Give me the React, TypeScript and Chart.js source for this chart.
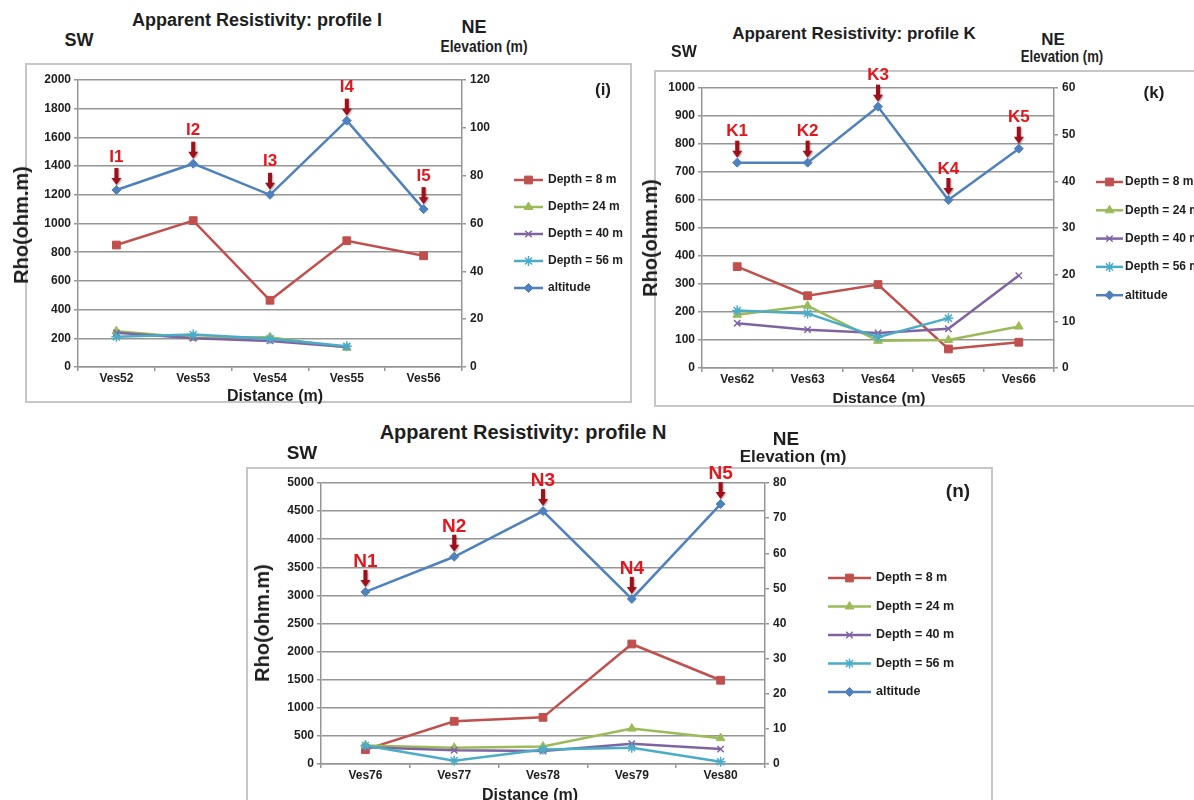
import React, { useEffect, useRef } from 'react';
import { Chart, registerables } from 'chart.js';
import { drawPoint } from 'chart.js/helpers';

Chart.register(...registerables);

const FONT = '"Liberation Sans", Arial, sans-serif';
const GRID = '#959595';
const TEXT = '#1e1e1e';
const EXTRA_TOP = 24;

// ---------- Profile I ----------
const categoriesI = ['Ves52', 'Ves53', 'Ves54', 'Ves55', 'Ves56'];
const depth8I = [850, 1020, 465, 880, 775];
const depth24I = [250, 203, 208, 135, null];
const depth40I = [238, 200, 182, 140, null];
const depth56I = [210, 226, 197, 145, null];
const altitudeI = [74, 85, 72, 103, 66];
const peaksI = ['I1', 'I2', 'I3', 'I4', 'I5'];
const namesI = ['Depth = 8 m', 'Depth= 24 m', 'Depth = 40 m', 'Depth = 56 m', 'altitude'];

// ---------- Profile K ----------
const categoriesK = ['Ves62', 'Ves63', 'Ves64', 'Ves65', 'Ves66'];
const depth8K = [362, 258, 298, 68, 92];
const depth24K = [190, 222, 97, 100, 148];
const depth40K = [160, 137, 125, 140, 330];
const depth56K = [205, 195, 110, 178, null];
const altitudeK = [44, 44, 56, 36, 47];
const peaksK = ['K1', 'K2', 'K3', 'K4', 'K5'];

// ---------- Profile N ----------
const categoriesN = ['Ves76', 'Ves77', 'Ves78', 'Ves79', 'Ves80'];
const depth8N = [255, 760, 830, 2135, 1490];
const depth24N = [330, 290, 310, 630, 460];
const depth40N = [300, 245, 230, 360, 265];
const depth56N = [330, 60, 260, 290, 40];
const altitudeN = [49, 59, 72, 47, 74];
const peaksN = ['N1', 'N2', 'N3', 'N4', 'N5'];

const namesKN = ['Depth = 8 m', 'Depth = 24 m', 'Depth = 40 m', 'Depth = 56 m', 'altitude'];

const STYLES = [
  { color: '#C0504D', pointStyle: 'rect', radius: 5.5, pw: 1 },
  { color: '#9BBB59', pointStyle: 'triangle', radius: 5, pw: 1 },
  { color: '#8064A2', pointStyle: 'crossRot', radius: 4.5, pw: 1.5 },
  { color: '#4BACC6', pointStyle: 'star', radius: 5, pw: 1.5 },
  { color: '#4F81BD', pointStyle: 'rectRot', radius: 4.5, pw: 1 },
];

const sideLegend = {
  id: 'sideLegend',
  afterDraw(chart: any, _args: any, opts: any) {
    const ctx = chart.ctx;
    chart.data.datasets.forEach((ds: any, i: number) => {
      const y = opts.y0 + i * opts.dy;
      ctx.save();
      ctx.strokeStyle = ds.borderColor;
      ctx.lineWidth = 2.5;
      ctx.beginPath();
      ctx.moveTo(opts.x, y);
      ctx.lineTo(opts.x + opts.len, y);
      ctx.stroke();
      ctx.fillStyle = ds.pointBackgroundColor;
      ctx.strokeStyle = ds.pointBorderColor;
      ctx.lineWidth = ds.pointBorderWidth;
      drawPoint(ctx, { pointStyle: ds.pointStyle, radius: ds.pointRadius, borderWidth: ds.pointBorderWidth, rotation: 0 } as any, opts.x + opts.len / 2, y);
      ctx.fillStyle = TEXT;
      ctx.font = `bold ${opts.font}px ${FONT}`;
      ctx.textAlign = 'left';
      ctx.textBaseline = 'middle';
      ctx.fillText(ds.label, opts.textX, y);
      ctx.restore();
    });
  },
};

const peakLabels = {
  id: 'peakLabels',
  afterDatasetsDraw(chart: any, _args: any, opts: any) {
    const meta = chart.getDatasetMeta(opts.index);
    const ctx = chart.ctx;
    meta.data.forEach((pt: any, i: number) => {
      const { x, y } = pt.getProps(['x', 'y'], true);
      ctx.save();
      ctx.shadowColor = 'rgba(0,0,0,0.35)';
      ctx.shadowBlur = 2;
      ctx.shadowOffsetX = 1;
      ctx.shadowOffsetY = 1;
      ctx.fillStyle = '#A0101A';
      ctx.fillRect(x - 2, y - 22, 4, 11);
      ctx.beginPath();
      ctx.moveTo(x - 5, y - 12);
      ctx.lineTo(x + 5, y - 12);
      ctx.lineTo(x, y - 5);
      ctx.closePath();
      ctx.fill();
      ctx.restore();
      ctx.save();
      ctx.fillStyle = '#E3161D';
      ctx.font = `bold ${opts.font}px ${FONT}`;
      ctx.textAlign = 'center';
      ctx.textBaseline = 'middle';
      ctx.fillText(opts.labels[i], x, y - opts.offset);
      ctx.restore();
    });
  },
};

type Box = { left: number; top: number; width: number; height: number };
type Plot = { left: number; right: number; top: number; bottom: number };

interface PanelProps {
  box: Box;
  plot: Plot;
  categories: string[];
  series: (number | null)[][];
  names: string[];
  leftMax: number;
  leftStep: number;
  rightMax: number;
  rightStep: number;
  peaks: string[];
  peakFont: number;
  peakOffset: number;
  legend: { x: number; len: number; textX: number; y0: number; dy: number; font: number };
}

function Panel(p: PanelProps) {
  const ref = useRef<HTMLCanvasElement>(null);
  const cTop = p.box.top - EXTRA_TOP;
  const cHeight = p.box.height + EXTRA_TOP;
  useEffect(() => {
    if (!ref.current) return;
    const leftW = p.plot.left - p.box.left;
    const rightW = 40;
    const xH = 20;
    const padTop = p.plot.top - cTop;
    const padRight = p.box.left + p.box.width - p.plot.right - rightW;
    const padBottom = p.box.top + p.box.height - p.plot.bottom - xH;
    const tickFont = { family: FONT, size: 12, weight: 'bold' as const };
    const plain = (v: any) => String(v);
    const datasets = p.series.map((data, i) => ({
      label: p.names[i],
      data,
      yAxisID: i === 4 ? 'yR' : 'y',
      borderColor: STYLES[i].color,
      backgroundColor: STYLES[i].color,
      borderWidth: 2.5,
      pointStyle: STYLES[i].pointStyle,
      pointRadius: STYLES[i].radius,
      pointBorderWidth: STYLES[i].pw,
      pointBackgroundColor: STYLES[i].color,
      pointBorderColor: STYLES[i].color,
      tension: 0,
      spanGaps: false,
      order: 10 - i,
      clip: false as any,
    }));
    const chart = new Chart(ref.current, {
      type: 'line',
      data: { labels: p.categories, datasets: datasets as any },
      plugins: [sideLegend as any, peakLabels as any],
      options: {
        animation: false,
        responsive: false,
        maintainAspectRatio: false,
        layout: { padding: { left: 0, top: padTop, right: padRight, bottom: padBottom } },
        scales: {
          x: {
            type: 'category',
            offset: true,
            grid: { display: true, drawOnChartArea: false, drawTicks: true, tickLength: 4, offset: true, color: GRID, lineWidth: 1.5 },
            border: { display: true, color: GRID, width: 1.5 },
            ticks: { font: tickFont, color: TEXT, padding: 0, maxRotation: 0, autoSkip: false },
            afterFit: (s: any) => { s.height = xH; },
          },
          y: {
            position: 'left',
            min: 0,
            max: p.leftMax,
            ticks: { stepSize: p.leftStep, font: tickFont, color: TEXT, padding: 3, callback: plain },
            grid: { color: GRID, lineWidth: 1.5, tickLength: 4, drawTicks: true },
            border: { display: true, color: GRID, width: 1.5 },
            afterFit: (s: any) => { s.width = leftW; },
          },
          yR: {
            position: 'right',
            min: 0,
            max: p.rightMax,
            ticks: { stepSize: p.rightStep, font: tickFont, color: TEXT, padding: 4, callback: plain },
            grid: { drawOnChartArea: false, drawTicks: true, tickLength: 4, color: GRID, lineWidth: 1.5 },
            border: { display: true, color: GRID, width: 1.5 },
            afterFit: (s: any) => { s.width = rightW; },
          },
        } as any,
        plugins: {
          legend: { display: false },
          tooltip: { enabled: false },
          sideLegend: {
            x: p.legend.x - p.box.left,
            len: p.legend.len,
            textX: p.legend.textX - p.box.left,
            y0: p.legend.y0 - cTop,
            dy: p.legend.dy,
            font: p.legend.font,
          },
          peakLabels: { index: 4, labels: p.peaks, font: p.peakFont, offset: p.peakOffset },
        } as any,
      },
    });
    return () => chart.destroy();
  }, []);
  return (
    <>
      <div
        style={{
          position: 'absolute',
          left: p.box.left,
          top: p.box.top,
          width: p.box.width,
          height: p.box.height,
          border: '2px solid #c6c6c6',
          boxSizing: 'border-box',
        }}
      />
      <canvas
        ref={ref}
        width={p.box.width}
        height={cHeight}
        style={{ position: 'absolute', left: p.box.left, top: cTop, width: p.box.width, height: cHeight }}
      />
    </>
  );
}

function T(props: { x: number; y: number; size: number; children: React.ReactNode; rotate?: boolean; sx?: number }) {
  const sx = props.sx ? ` scaleX(${props.sx})` : '';
  return (
    <div
      style={{
        position: 'absolute',
        left: props.x,
        top: props.y,
        transform: `translate(-50%, -50%)${props.rotate ? ' rotate(-90deg)' : ''}${sx}`,
        fontFamily: FONT,
        fontWeight: 'bold',
        fontSize: props.size,
        color: TEXT,
        whiteSpace: 'nowrap',
        lineHeight: 1,
      }}
    >
      {props.children}
    </div>
  );
}

export default function App() {
  return (
    <div style={{ position: 'absolute', left: 0, top: 0, width: 1194, height: 800, overflow: 'hidden', background: '#fff', fontFamily: FONT }}>
      {/* Profile I */}
      <T x={257} y={20} size={18}>Apparent Resistivity: profile I</T>
      <T x={79} y={40} size={18}>SW</T>
      <T x={474} y={27} size={18}>NE</T>
      <T x={484} y={46} size={16.5} sx={0.84}>Elevation (m)</T>
      <Panel
        box={{ left: 25, top: 63, width: 607, height: 340 }}
        plot={{ left: 78, right: 462, top: 80, bottom: 367 }}
        categories={categoriesI}
        series={[depth8I, depth24I, depth40I, depth56I, altitudeI]}
        names={namesI}
        leftMax={2000}
        leftStep={200}
        rightMax={120}
        rightStep={20}
        peaks={peaksI}
        peakFont={17}
        peakOffset={33}
        legend={{ x: 514, len: 29, textX: 548, y0: 180, dy: 27, font: 12 }}
      />
      <T x={603} y={89} size={17}>(i)</T>
      <T x={21} y={225} size={20} rotate>Rho(ohm.m)</T>
      <T x={275} y={396} size={16}>Distance (m)</T>

      {/* Profile K */}
      <T x={854} y={33} size={17}>Apparent Resistivity: profile K</T>
      <T x={684} y={52} size={16}>SW</T>
      <T x={1053} y={39} size={17}>NE</T>
      <T x={1062} y={57} size={16} sx={0.82}>Elevation (m)</T>
      <Panel
        box={{ left: 654, top: 70, width: 560, height: 337 }}
        plot={{ left: 702, right: 1054, top: 88, bottom: 368 }}
        categories={categoriesK}
        series={[depth8K, depth24K, depth40K, depth56K, altitudeK]}
        names={namesKN}
        leftMax={1000}
        leftStep={100}
        rightMax={60}
        rightStep={10}
        peaks={peaksK}
        peakFont={17}
        peakOffset={31}
        legend={{ x: 1096, len: 27, textX: 1125, y0: 182, dy: 28.3, font: 12 }}
      />
      <T x={1154} y={92} size={17}>(k)</T>
      <T x={650} y={238} size={20} rotate>Rho(ohm.m)</T>
      <T x={879} y={398} size={15.5}>Distance (m)</T>

      {/* Profile N */}
      <T x={523} y={432} size={20}>Apparent Resistivity: profile N</T>
      <T x={302} y={452} size={19}>SW</T>
      <T x={786} y={438} size={19}>NE</T>
      <T x={793} y={456} size={17}>Elevation (m)</T>
      <Panel
        box={{ left: 246, top: 467, width: 747, height: 343 }}
        plot={{ left: 321, right: 765, top: 483, bottom: 764 }}
        categories={categoriesN}
        series={[depth8N, depth24N, depth40N, depth56N, altitudeN]}
        names={namesKN}
        leftMax={5000}
        leftStep={500}
        rightMax={80}
        rightStep={10}
        peaks={peaksN}
        peakFont={19}
        peakOffset={30}
        legend={{ x: 828, len: 43, textX: 876, y0: 578, dy: 28.5, font: 12.5 }}
      />
      <T x={958} y={490} size={19}>(n)</T>
      <T x={262} y={623} size={20} rotate>Rho(ohm.m)</T>
      <T x={530} y={795} size={16}>Distance (m)</T>
    </div>
  );
}
